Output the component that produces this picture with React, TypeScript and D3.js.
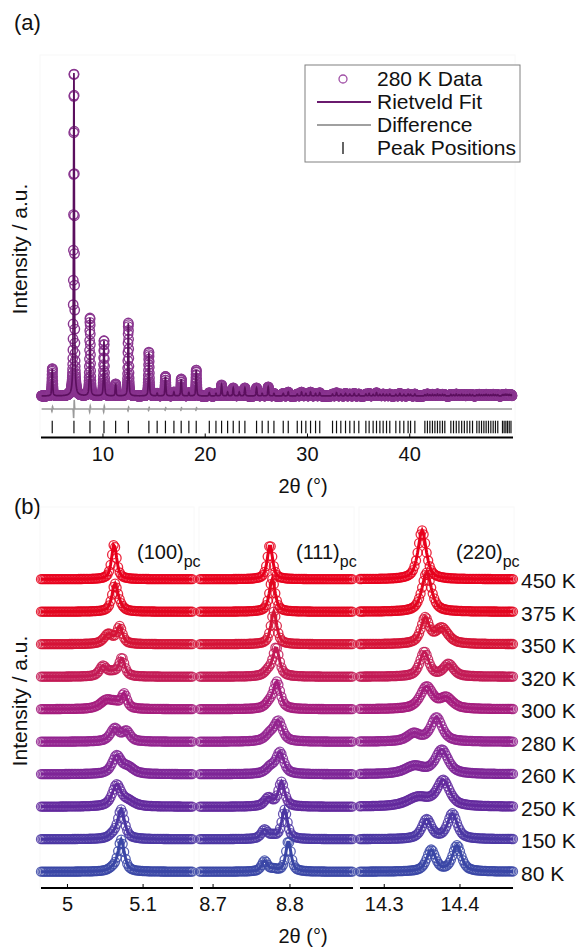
import React from 'react';
import * as d3 from 'd3';

const FONT = '"Liberation Sans", Arial, Helvetica, sans-serif';

// ---------- Panel (a) data ----------
const reflections2Theta = [
  5.04, 7.163, 8.73, 10.1, 11.24, 12.48, 14.49, 15.3, 16.11, 16.94, 17.65, 18.4, 19.12, 20.4,
  21.05, 21.6, 22.19, 22.74, 23.33, 23.88, 25.02, 25.57, 26.16, 26.72, 27.63, 28.12,
  29.0, 29.42, 29.84, 30.3, 30.79, 31.2, 32.45, 32.84, 33.26, 33.72, 34.14, 34.57, 35.02,
  35.71, 36.03, 36.42, 36.75, 37.08, 37.4, 37.73, 38.05, 38.64, 39.03, 39.42, 39.84, 40.08, 40.5,
  41.48, 41.73, 41.97, 42.22, 42.46, 42.71, 42.95, 43.2, 43.43,
  44.02, 44.28, 44.55, 44.81, 45.08, 45.34, 45.61, 45.87, 46.14,
  46.56, 46.79, 47.02, 47.25, 47.47, 47.7, 47.93, 48.16, 48.38, 48.61,
  49.07, 49.23, 49.4, 49.56, 49.73, 49.9,
];
const reflectionIntensity = [
  0.083, 1.0, 0.24, 0.17, 0.037, 0.225, 0.135, 0.008, 0.06, 0.012, 0.052, 0.01, 0.08, 0.01,
  0.008, 0.034, 0.012, 0.025, 0.012, 0.025, 0.025, 0.008, 0.028, 0.008, 0.008, 0.012,
  0.006, 0.012, 0.008, 0.012, 0.008, 0.01, 0.006, 0.01, 0.006, 0.008, 0.006, 0.008, 0.006,
  0.006, 0.008, 0.005, 0.01, 0.005, 0.006, 0.005, 0.006, 0.005, 0.008, 0.005, 0.006, 0.005, 0.006,
  0.004, 0.006, 0.004, 0.005, 0.004, 0.006, 0.004, 0.005, 0.004,
  0.005, 0.004, 0.006, 0.004, 0.005, 0.004, 0.004, 0.005, 0.004,
  0.004, 0.005, 0.004, 0.004, 0.005, 0.004, 0.004, 0.005, 0.004, 0.004,
  0.004, 0.004, 0.005, 0.004, 0.004, 0.004,
];
const differencePos = [5.04, 7.163, 8.73, 10.1, 12.48, 14.49, 16.11, 17.65, 19.12];
const differenceAmp = [0.008, 0.028, 0.01, 0.01, 0.006, 0.005, 0.004, 0.004, 0.004];
const scanRangeA = [4.0, 50.0];
const scanStepA = 0.01;
const ticksA = [10, 20, 30, 40];

// ---------- Panel (b) data ----------
const temperatures = ['450 K', '375 K', '350 K', '320 K', '300 K', '280 K', '260 K', '250 K', '150 K', '80 K'];
const offsets = [9, 8, 7, 6, 5, 4, 3, 2, 1, 0];
const tempColors = ['#e8001c', '#e2051f', '#d51336', '#c31a55', '#a51c7e', '#93238f', '#7e2597', '#63299d', '#4b36a3', '#3a46a6'];
// components: [centre 2θ, height (offset units), FWHM]
const peak100 = [
  [[5.0617, 1.08, 0.008]],
  [[5.0626, 0.78, 0.009], [5.068, 0.15, 0.012]],
  [[5.069, 0.52, 0.009], [5.054, 0.3, 0.014]],
  [[5.072, 0.55, 0.009], [5.047, 0.31, 0.011], [5.06, 0.12, 0.015]],
  [[5.075, 0.44, 0.009], [5.052, 0.28, 0.02], [5.064, 0.12, 0.012]],
  [[5.0626, 0.4, 0.014], [5.078, 0.3, 0.012]],
  [[5.065, 0.55, 0.014], [5.08, 0.2, 0.018]],
  [[5.065, 0.65, 0.014], [5.08, 0.16, 0.02]],
  [[5.071, 0.9, 0.011], [5.06, 0.1, 0.012]],
  [[5.071, 0.97, 0.01], [5.06, 0.08, 0.012]],
];
const peak111 = [
  [[8.774, 1.07, 0.008]],
  [[8.777, 1.0, 0.009]],
  [[8.779, 1.0, 0.009]],
  [[8.782, 0.88, 0.01], [8.772, 0.15, 0.012]],
  [[8.783, 0.82, 0.011], [8.773, 0.15, 0.012]],
  [[8.785, 0.6, 0.013], [8.774, 0.2, 0.015]],
  [[8.787, 0.65, 0.012], [8.775, 0.2, 0.014]],
  [[8.789, 0.75, 0.01], [8.772, 0.26, 0.012]],
  [[8.793, 0.9, 0.009], [8.767, 0.28, 0.01], [8.778, 0.08, 0.01]],
  [[8.798, 0.95, 0.008], [8.767, 0.33, 0.009], [8.779, 0.06, 0.01]],
];
const peak220 = [
  [[14.35, 1.5, 0.013]],
  [[14.356, 1.2, 0.015]],
  [[14.354, 0.78, 0.013], [14.376, 0.48, 0.02]],
  [[14.353, 0.76, 0.014], [14.385, 0.38, 0.016]],
  [[14.356, 0.68, 0.02], [14.382, 0.33, 0.02]],
  [[14.369, 0.74, 0.018], [14.339, 0.24, 0.02]],
  [[14.376, 0.74, 0.02], [14.34, 0.24, 0.03]],
  [[14.378, 0.78, 0.02], [14.345, 0.28, 0.035]],
  [[14.356, 0.6, 0.015], [14.39, 0.78, 0.015]],
  [[14.362, 0.66, 0.014], [14.396, 0.8, 0.014]],
];
const windowDomains = [[4.965, 5.166], [8.683, 8.882], [14.268, 14.47]];
const windowTicks = [[5, 5.1], [8.7, 8.8], [14.3, 14.4]];
const windowTickLabels = [['5', '5.1'], ['8.7', '8.8'], ['14.3', '14.4']];
const hklLabels = ['(100)', '(111)', '(220)'];
const scanStepB = 0.002;

// ---------- helpers ----------
function pv(x: number, c: number, h: number, w: number, eta = 0.65) {
  const t = (x - c) / w;
  return h * (eta / (1 + 4 * t * t) + (1 - eta) * Math.exp(-4 * Math.LN2 * t * t));
}

export default function App() {
  // Panel (a)
  const xA = d3.scaleLinear().domain([4, 50]).range([41.6, 512]);
  const yA = d3.scaleLinear().domain([0, 1]).range([396, 72]);
  const yD = d3.scaleLinear().domain([0, 1]).range([409, 85]);

  const xsA = d3.range(scanRangeA[0], scanRangeA[1] + 1e-9, scanStepA);
  const calcA = xsA.map((x) => {
    let s = 0;
    for (let k = 0; k < reflections2Theta.length; k++) {
      s += pv(x, reflections2Theta[k], reflectionIntensity[k], 0.1);
    }
    return s;
  });
  const diffA = xsA.map((x) => {
    let s = 0;
    for (let k = 0; k < differencePos.length; k++) {
      const t = (x - differencePos[k]) / 0.03;
      s += differenceAmp[k] * t * Math.exp(0.5 - (t * t) / 2);
    }
    return s;
  });
  const obsA = calcA.map((c, i) => c + diffA[i]);
  const lineCalc = d3.line<number>().x((_, i) => xA(xsA[i])).y((d) => yA(d))(calcA) || '';
  const lineDiff = d3.line<number>().x((_, i) => xA(xsA[i])).y((d) => yD(d))(diffA) || '';

  // Panel (b)
  const windowRanges = [[41, 193], [200, 353], [360, 513]];
  const xB = windowDomains.map((d, i) => d3.scaleLinear().domain(d).range(windowRanges[i]));
  const yB = d3.scaleLinear().domain([0, 10]).range([871.7, 546.7]);
  const peakSets = [peak100, peak111, peak220];

  const curves: { color: string; circles: [number, number][]; path: string; key: string }[] = [];
  temperatures.forEach((_, ti) => {
    peakSets.forEach((set, wi) => {
      const dom = windowDomains[wi];
      const xs = d3.range(dom[0], dom[1] + 1e-9, scanStepB);
      const comps = set[ti];
      const vals = xs.map((x) => {
        let s = 0;
        comps.forEach((c) => (s += pv(x, c[0], c[1], c[2], 0.7)));
        return s + offsets[ti];
      });
      const pts: [number, number][] = xs.map((x, i) => [xB[wi](x), yB(vals[i])]);
      curves.push({
        color: tempColors[ti],
        circles: pts,
        path: d3.line()(pts) || '',
        key: `${ti}-${wi}`,
      });
    });
  });

  return (
    <svg width={583} height={949} style={{ position: 'absolute', left: 0, top: 0, background: '#fff' }} fontFamily={FONT}>
      <rect x={0} y={0} width={583} height={949} fill="#fff" />
      {/* ===== Panel (a) ===== */}
      <text x={14} y={30} fontSize={22} fill="#111">(a)</text>
      <rect x={40} y={55} width={475} height={382} fill="none" stroke="#f8f8f8" />
      <g>
        {obsA.map((v, i) => (
          <circle key={i} cx={xA(xsA[i])} cy={yA(v)} r={4.7} fill="none" stroke="#8a3690" strokeWidth={1.4} />
        ))}
      </g>
      <path d={lineCalc} fill="none" stroke="#5b0f5e" strokeWidth={1.7} />
      <path d={lineDiff} fill="none" stroke="#9a9a9a" strokeWidth={1.5} />
      <g>
        {reflections2Theta.map((p, i) => (
          <line key={i} x1={xA(p)} x2={xA(p)} y1={420.7} y2={433.3} stroke="#111" strokeWidth={1.2} />
        ))}
      </g>
      <line x1={41} x2={513} y1={437.5} y2={437.5} stroke="#000" strokeWidth={1.8} />
      {ticksA.map((t) => (
        <g key={t}>
          <line x1={xA(t)} x2={xA(t)} y1={437.5} y2={433.5} stroke="#000" strokeWidth={1} />
          <text x={xA(t)} y={460.5} fontSize={20} textAnchor="middle" fill="#111">{t}</text>
        </g>
      ))}
      <text x={303} y={493} fontSize={20} textAnchor="middle" fill="#111">2θ (°)</text>
      <text transform="translate(27,249) rotate(-90)" fontSize={21} textAnchor="middle" fill="#111">Intensity / a.u.</text>

      {/* legend */}
      <rect x={305} y={65} width={215} height={97} fill="#fff" stroke="#808080" strokeWidth={1} />
      <circle cx={343} cy={79} r={4} fill="none" stroke="#a050a6" strokeWidth={1.3} />
      <text x={377} y={79} dy="0.35em" fontSize={21} fill="#111">280 K Data</text>
      <line x1={317} x2={371} y1={102} y2={102} stroke="#6a1a6e" strokeWidth={2} />
      <text x={377} y={102} dy="0.35em" fontSize={21} fill="#111">Rietveld Fit</text>
      <line x1={317} x2={371} y1={125} y2={125} stroke="#a0a0a0" strokeWidth={2} />
      <text x={377} y={125} dy="0.35em" fontSize={21} fill="#111">Difference</text>
      <line x1={343} x2={343} y1={142} y2={154} stroke="#111" strokeWidth={1.3} />
      <text x={377} y={148} dy="0.35em" fontSize={21} fill="#111">Peak Positions</text>

      {/* ===== Panel (b) ===== */}
      <text x={14} y={514} fontSize={22} fill="#111">(b)</text>
      {windowRanges.map((r, i) => (
        <rect key={i} x={r[0] - 1} y={507} width={r[1] - r[0] + 2} height={381} fill="none" stroke="#f8f8f8" />
      ))}
      {curves.map((c) => (
        <g key={c.key}>
          {c.circles.map((p, i) => (
            <circle key={i} cx={p[0]} cy={p[1]} r={4.5} fill="none" stroke={c.color} strokeOpacity={0.85} strokeWidth={1.3} />
          ))}
          <path d={c.path} fill="none" stroke={c.color} strokeWidth={3} />
        </g>
      ))}
      {temperatures.map((t, i) => (
        <text key={t} x={521} y={yB(offsets[i]) + 1.5} dy="0.35em" fontSize={21} fill="#111">{t}</text>
      ))}
      {hklLabels.map((h, i) => (
        <text key={h} x={[137, 296, 456][i]} y={559} fontSize={20} fill="#111">
          {h}
          <tspan fontSize={16} dy={8}>pc</tspan>
        </text>
      ))}
      {windowRanges.map((r, wi) => (
        <g key={wi}>
          <line x1={r[0]} x2={r[1]} y1={888} y2={888} stroke="#000" strokeWidth={1.8} />
          {windowTicks[wi].map((t, ti) => (
            <g key={t}>
              <line x1={xB[wi](t)} x2={xB[wi](t)} y1={888} y2={884} stroke="#000" strokeWidth={1} />
              <text x={xB[wi](t)} y={911} fontSize={20} textAnchor="middle" fill="#111">{windowTickLabels[wi][ti]}</text>
            </g>
          ))}
        </g>
      ))}
      <text x={303} y={943} fontSize={20} textAnchor="middle" fill="#111">2θ (°)</text>
      <text transform="translate(27,701) rotate(-90)" fontSize={21} textAnchor="middle" fill="#111">Intensity / a.u.</text>
    </svg>
  );
}
